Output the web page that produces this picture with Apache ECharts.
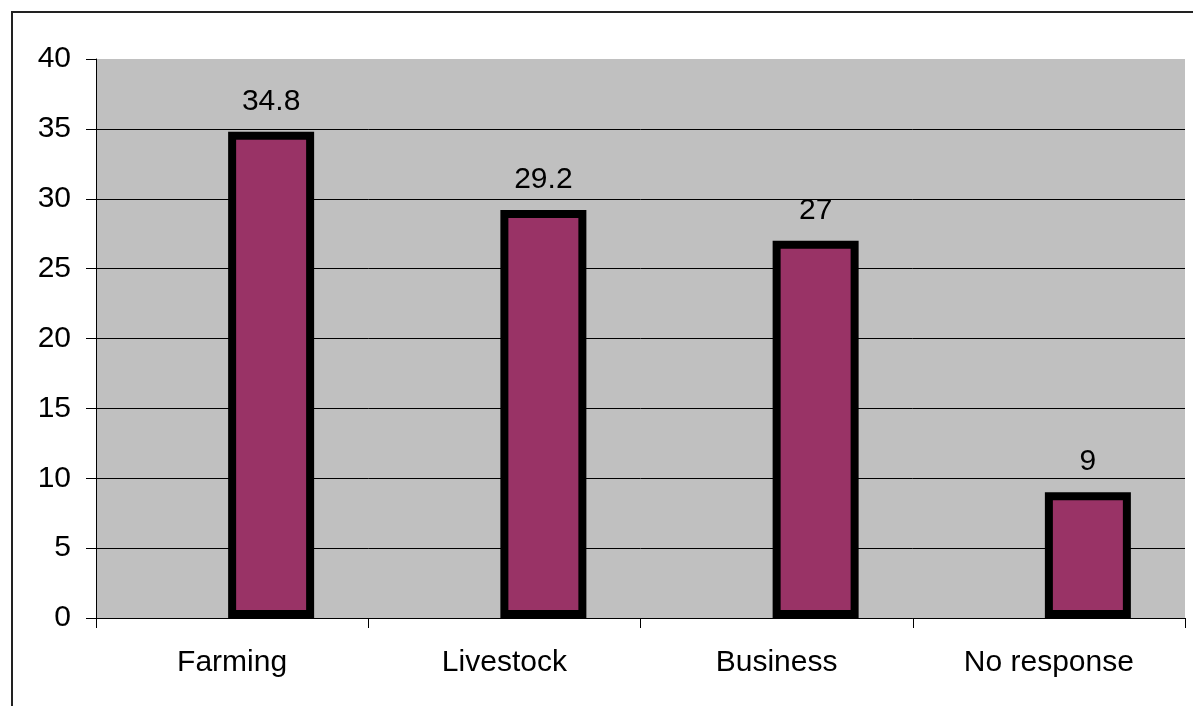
<!DOCTYPE html>
<html>
<head>
<meta charset="utf-8">
<script src="https://cdn.jsdelivr.net/npm/echarts@6/dist/echarts.min.js"></script>
<style>
  html, body { margin: 0; padding: 0; background: #ffffff; }
  #chart { width: 1193px; height: 706px; }
</style>
</head>
<body>
<div id="chart"></div>
<script>
// Categories and values
const categories = ['Farming', 'Livestock', 'Business', 'No response'];
const shares = [34.8, 29.2, 27, 9];
// Empty companion series that holds the left slot in each category
const emptySlot = [null, null, null, null];
// Value axis range
const axisMin = 0;
const axisMax = 40;
const axisStep = 5;

const FONT = '"Liberation Sans", Arial, sans-serif';
const FONT_SIZE = 30;

const chart = echarts.init(document.getElementById('chart'), null, { renderer: 'canvas' });

chart.setOption({
  animation: false,
  backgroundColor: '#ffffff',
  textStyle: { fontFamily: FONT },
  graphic: [{
    type: 'rect',
    z: 100,
    silent: true,
    shape: { x: 12, y: 12, width: 1300, height: 800 },
    style: { fill: 'none', stroke: '#222222', lineWidth: 2 }
  }],
  grid: {
    left: 96,
    right: 8,
    top: 59,
    bottom: 88,
    show: true,
    backgroundColor: '#c0c0c0',
    borderWidth: 0,
    containLabel: false
  },
  xAxis: {
    type: 'category',
    data: categories,
    boundaryGap: true,
    axisLine: { show: true, lineStyle: { color: '#000000', width: 1 } },
    axisTick: { show: true, alignWithLabel: false, length: 10, lineStyle: { color: '#000000' } },
    axisLabel: { color: '#000000', fontSize: FONT_SIZE, fontFamily: FONT, margin: 30 }
  },
  yAxis: {
    type: 'value',
    min: axisMin,
    max: axisMax,
    interval: axisStep,
    axisLine: { show: true, lineStyle: { color: '#000000', width: 1 } },
    axisTick: { show: true, length: 10, lineStyle: { color: '#000000' } },
    axisLabel: { color: '#000000', fontSize: FONT_SIZE, fontFamily: FONT, margin: 25 },
    splitLine: { show: true, showMinLine: false, showMaxLine: false, lineStyle: { color: '#000000', width: 1 } }
  },
  series: [
    {
      name: 'Empty',
      type: 'bar',
      data: emptySlot,
      barWidth: 86,
      barGap: '-9.3%'
    },
    {
      name: 'Share',
      type: 'bar',
      data: shares,
      barWidth: 86,
      barGap: '-9.3%',
      itemStyle: { color: '#993366', borderColor: '#000000', borderWidth: 8 },
      label: {
        show: true,
        position: 'top',
        distance: 15,
        color: '#000000',
        fontSize: FONT_SIZE,
        fontFamily: FONT
      }
    }
  ]
});
</script>
</body>
</html>
